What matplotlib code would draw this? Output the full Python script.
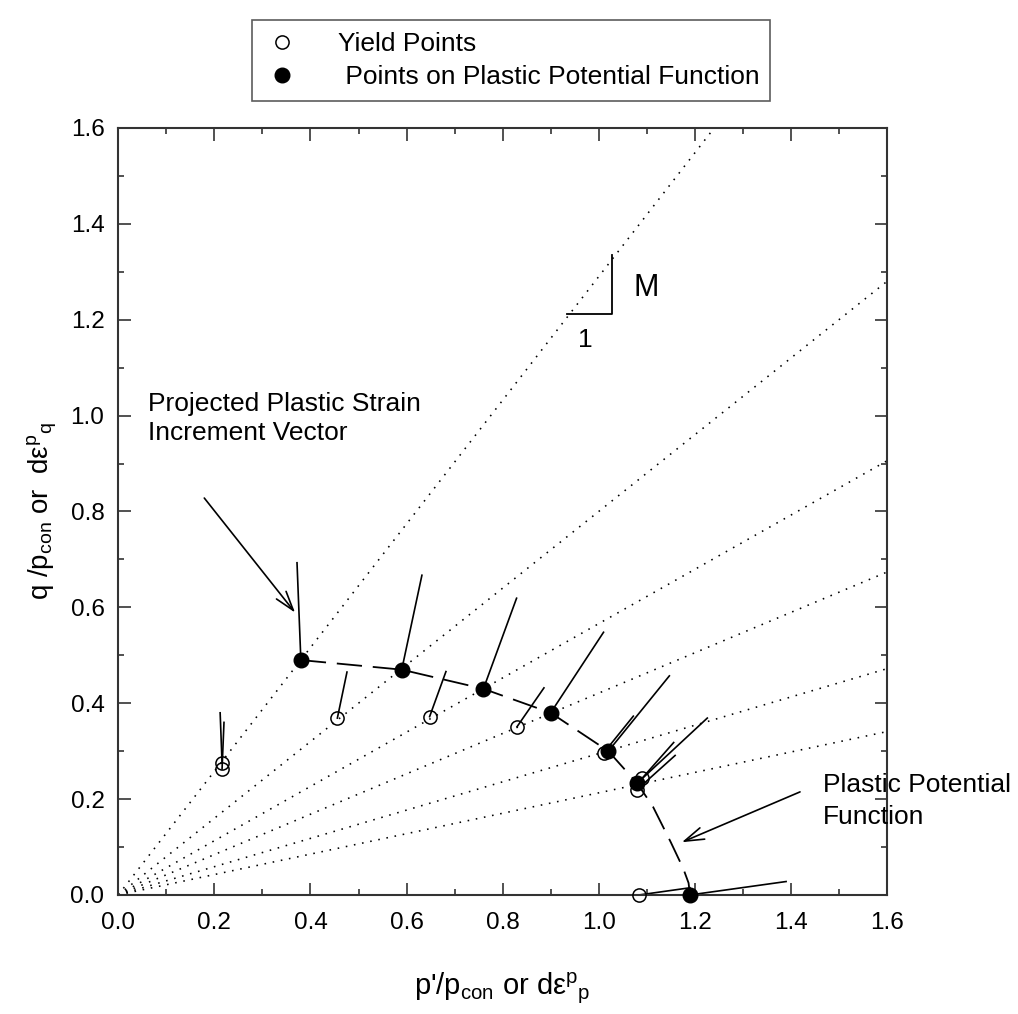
import matplotlib

matplotlib.use("Agg")
import matplotlib.pyplot as plt
from matplotlib.lines import Line2D
from matplotlib.ticker import MultipleLocator, FormatStrFormatter

plt.rcParams["font.family"] = ["Liberation Sans", "DejaVu Sans"]
plt.rcParams["mathtext.fontset"] = "custom"
plt.rcParams["mathtext.rm"] = "Liberation Sans"
plt.rcParams["mathtext.it"] = "Liberation Sans:italic"

# yield points (open symbols) and their plastic strain increment tips
yield_p = [0.216, 0.216, 0.456, 0.648, 0.830, 1.010, 1.090, 1.079, 1.084]
yield_q = [0.275, 0.263, 0.369, 0.372, 0.351, 0.296, 0.243, 0.219, 0.0]
yield_tip_p = [0.212, 0.220, 0.476, 0.682, 0.886, 1.072, 1.156, 1.159, 1.190]
yield_tip_q = [0.380, 0.360, 0.465, 0.466, 0.432, 0.373, 0.318, 0.291, 0.015]

# points on the plastic potential function (filled symbols)
pp_p = [0.38, 0.59, 0.76, 0.90, 1.02, 1.08, 1.19]
pp_q = [0.49, 0.47, 0.43, 0.38, 0.30, 0.233, 0.0]
pp_tip_p = [0.372, 0.632, 0.829, 1.010, 1.147, 1.226, 1.390]
pp_tip_q = [0.693, 0.667, 0.619, 0.548, 0.457, 0.369, 0.028]

# plastic potential curve
curve_p = [0.38, 0.59, 0.76, 0.90, 1.02, 1.08, 1.113, 1.150, 1.176, 1.187, 1.19]
curve_q = [0.49, 0.47, 0.43, 0.38, 0.30, 0.233, 0.184, 0.110, 0.055, 0.025, 0.0]

# stress path slopes (q/p) through the origin
path_slopes = [1.29, 0.80, 0.566, 0.421, 0.295, 0.213]

M_SLOPE_P = [0.935, 1.027, 1.027]
M_SLOPE_Q = [1.211, 1.211, 1.336]

fig = plt.figure(figsize=(10.18, 10.14), dpi=100)
ax = fig.add_axes([0.1162, 0.1174, 0.7551, 0.7564])

for slope in path_slopes:
    ax.plot([0, 1.6], [0, slope * 1.6], color="black", lw=1.15,
            linestyle=(0, (1, 4.2)))

ax.plot(curve_p, curve_q, color="black", lw=1.3, linestyle=(0, (14, 6)))

for p0, q0, p1, q1 in zip(yield_p, yield_q, yield_tip_p, yield_tip_q):
    ax.plot([p0, p1], [q0, q1], color="black", lw=1.2)
for p0, q0, p1, q1 in zip(pp_p, pp_q, pp_tip_p, pp_tip_q):
    ax.plot([p0, p1], [q0, q1], color="black", lw=1.2)

ax.plot(yield_p, yield_q, "o", ms=9.5, mfc="none", mec="black", mew=1.1,
        clip_on=False, zorder=4)
ax.plot(pp_p, pp_q, "o", ms=10.5, mfc="black", mec="black",
        clip_on=False, zorder=5)

# slope triangle for M
ax.plot(M_SLOPE_P, M_SLOPE_Q, color="black", lw=1.3)
ax.text(1.098, 1.266, "M", fontsize=22, ha="center", va="center")
ax.text(0.973, 1.157, "1", fontsize=19, ha="center", va="center")

arrow = dict(arrowstyle="->,head_length=0.7,head_width=0.22", lw=1.2,
             color="black", shrinkA=0, shrinkB=0, mutation_scale=20)
ax.annotate("", xy=(0.368, 0.589), xytext=(0.179, 0.828), arrowprops=arrow)
ax.annotate("", xy=(1.173, 0.110), xytext=(1.419, 0.215), arrowprops=arrow)
ax.text(0.062, 0.994, "Projected Plastic Strain\nIncrement Vector",
        fontsize=19, ha="left", va="center", linespacing=1.3)
ax.text(1.467, 0.196, "Plastic Potential\nFunction",
        fontsize=19, ha="left", va="center", linespacing=1.4)

ax.set_xlim(0, 1.6)
ax.set_ylim(0, 1.6)
for axis in (ax.xaxis, ax.yaxis):
    axis.set_major_locator(MultipleLocator(0.2))
    axis.set_minor_locator(MultipleLocator(0.1))
    axis.set_major_formatter(FormatStrFormatter("%.1f"))
ax.tick_params(which="both", direction="in", top=True, right=True,
               color="#333333", labelsize=17.5)
ax.tick_params(which="major", length=9, width=1.2)
ax.tick_params(which="minor", length=4.5, width=1.2)
ax.tick_params(axis="x", pad=12)
ax.tick_params(axis="y", pad=10)
for spine in ax.spines.values():
    spine.set_linewidth(1.5)
    spine.set_color("#333333")

ax.set_xlabel("p'/p$_{\\mathrm{con}}$ or dε$^{\\mathrm{p}}{}_{\\mathrm{p}}$",
              fontsize=21, labelpad=27)
ax.set_ylabel("q /p$_{\\mathrm{con}}$ or  dε$^{\\mathrm{p}}{}_{\\mathrm{q}}$",
              fontsize=20, labelpad=8)

handles = [
    Line2D([], [], ls="none", marker="o", ms=9.5, mfc="white", mec="black",
           mew=1.1),
    Line2D([], [], ls="none", marker="o", ms=10.5, mfc="black", mec="black"),
]
leg = fig.legend(handles, ["Yield Points", " Points on Plastic Potential Function"],
                 loc="center", bbox_to_anchor=(0.2475, 0.8984, 0.509, 0.0838),
                 mode="expand", fontsize=19, frameon=True, fancybox=False,
                 borderpad=0.45, labelspacing=0.35, handlelength=1.4,
                 handletextpad=1.4, borderaxespad=0)
leg.get_frame().set_edgecolor("#333333")
leg.get_frame().set_linewidth(1.2)

fig.savefig("out.png", dpi=100)
